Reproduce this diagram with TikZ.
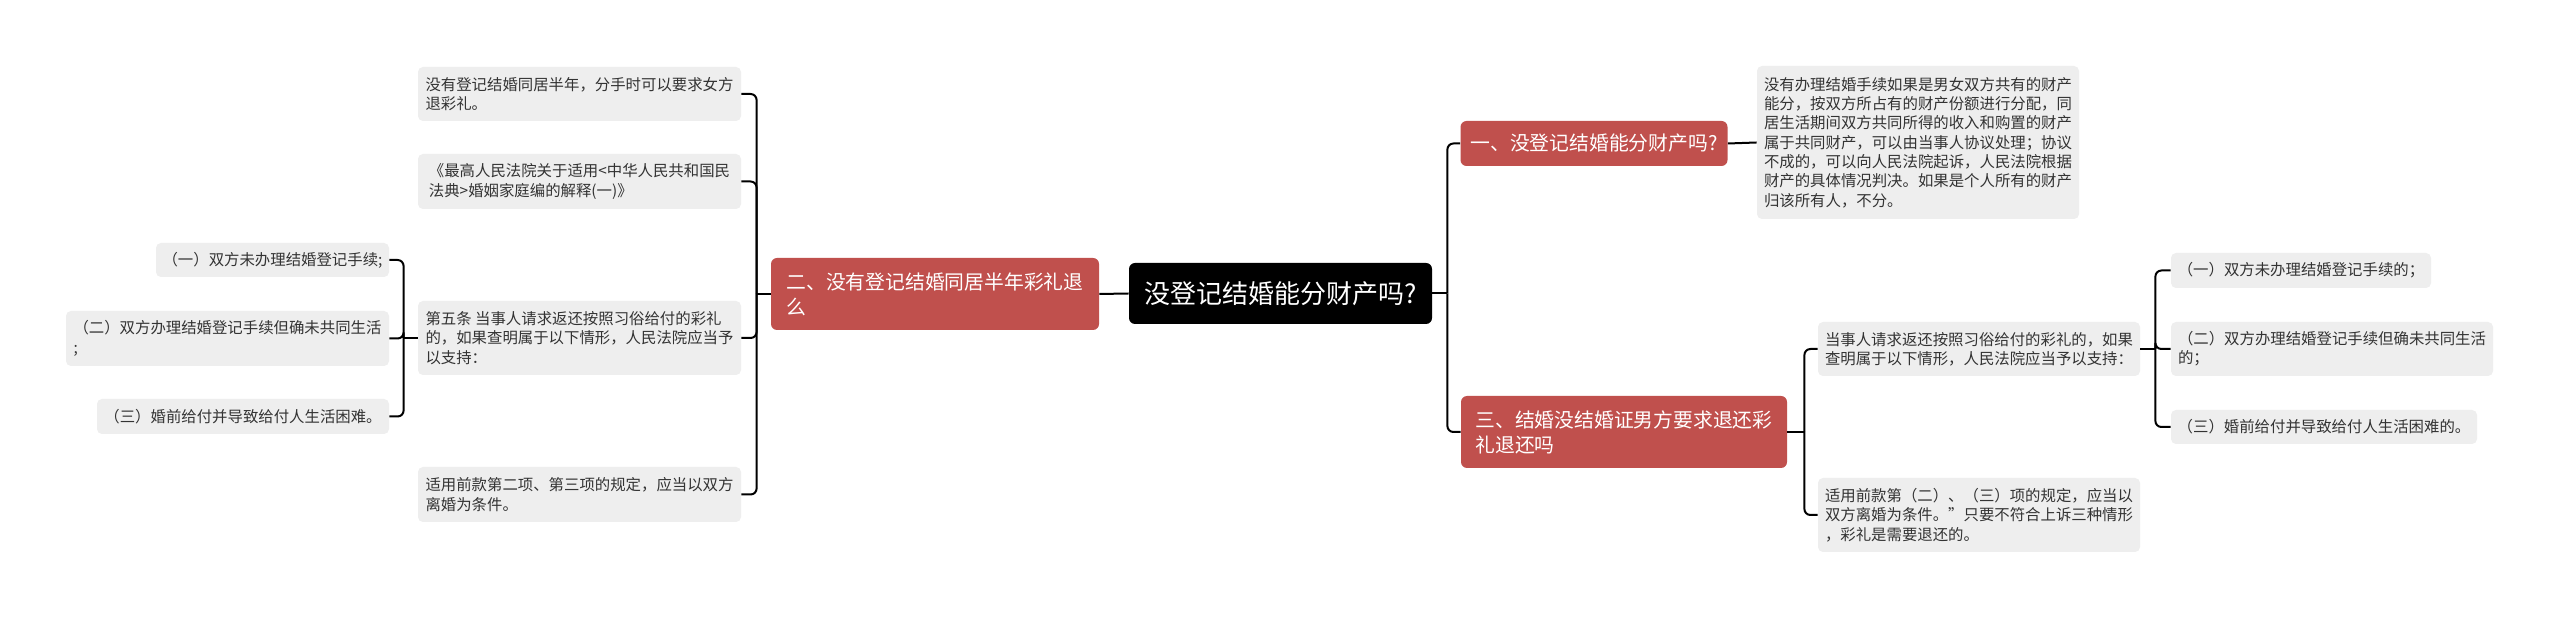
\documentclass[tikz,border=0pt]{standalone}
\usepackage{fontspec}
\setmainfont{Noto Sans CJK SC}
\definecolor{nodered}{HTML}{C0504D}
\definecolor{boxgray}{HTML}{EEEEEE}
\definecolor{txtgray}{HTML}{333333}
\begin{document}
\begin{tikzpicture}[x=0.5pt,y=-0.5pt,
  conn/.style={draw=black,line width=1pt,rounded corners=3pt},
  gbox/.style={fill=boxgray,text=txtgray,rounded corners=2.5pt,font=\fontsize{7.7}{9.65}\selectfont,align=left,inner xsep=3pt,inner ysep=0pt},
  rbox/.style={fill=nodered,text=white,rounded corners=3pt,font=\fontsize{9.9}{12.5}\selectfont,align=left,inner xsep=5pt,inner ysep=0pt},
  cbox/.style={fill=black,text=white,rounded corners=3pt,font=\fontsize{13}{16}\selectfont,inner xsep=6pt,inner ysep=0pt}]
\fill[white] (0,0) rectangle (2560,619);
\useasboundingbox (0,0) rectangle (2560,619);

% central and main branches
\node[cbox,minimum width=151.5pt,minimum height=30.5pt] (c) at (1280.5,293.5) {没登记结婚能分财产吗?};
\node[rbox,minimum width=164pt,minimum height=36pt] (b2) at (935,294) {二、没有登记结婚同居半年彩礼退\\么};
\node[rbox,minimum width=133pt,minimum height=22.5pt] (b1) at (1594,143.5) {一、没登记结婚能分财产吗?};
\node[rbox,minimum width=163pt,minimum height=36pt] (b3) at (1624,432) {三、结婚没结婚证男方要求退还彩\\礼退还吗};

% right side details
\node[gbox,minimum width=161pt,minimum height=76.5pt] (d1) at (1918,142.5) {没有办理结婚手续如果是男女双方共有的财产\\能分，按双方所占有的财产份额进行分配，同\\居生活期间双方共同所得的收入和购置的财产\\属于共同财产，可以由当事人协议处理；协议\\不成的，可以向人民法院起诉，人民法院根据\\财产的具体情况判决。如果是个人所有的财产\\归该所有人，不分。};
\node[gbox,minimum width=161pt,minimum height=27pt] (r1) at (1979,349) {当事人请求返还按照习俗给付的彩礼的，如果\\查明属于以下情形，人民法院应当予以支持：};
\node[gbox,minimum width=161pt,minimum height=37pt] (r2) at (1979,515) {适用前款第（二）、（三）项的规定，应当以\\双方离婚为条件。”只要不符合上诉三种情形\\，彩礼是需要退还的。};
\node[gbox,minimum width=130pt,minimum height=17.5pt] (g1) at (2301,270.5) {（一）双方未办理结婚登记手续的；};
\node[gbox,minimum width=161pt,minimum height=27pt] (g2) at (2332,349) {（二）双方办理结婚登记手续但确未共同生活\\的；};
\node[gbox,minimum width=153pt,minimum height=17pt] (g3) at (2324,427) {（三）婚前给付并导致给付人生活困难的。};

% left side details
\node[gbox,minimum width=161.5pt,minimum height=27pt] (l1) at (579.5,94) {没有登记结婚同居半年，分手时可以要求女方\\退彩礼。};
\node[gbox,minimum width=161.5pt,minimum height=27.5pt] (l2) at (579.5,181.5) {《最高人民法院关于适用<中华人民共和国民\\法典>婚姻家庭编的解释(一)》};
\node[gbox,minimum width=161.5pt,minimum height=37pt] (l3) at (579.5,338) {第五条 当事人请求返还按照习俗给付的彩礼\\的，如果查明属于以下情形，人民法院应当予\\以支持：};
\node[gbox,minimum width=161.5pt,minimum height=27.5pt] (l4) at (579.5,494.5) {适用前款第二项、第三项的规定，应当以双方\\离婚为条件。};
\node[gbox,minimum width=116.5pt,minimum height=17pt] (lg1) at (272.5,260) {（一）双方未办理结婚登记手续;};
\node[gbox,minimum width=161.5pt,minimum height=27.5pt] (lg2) at (227.5,338.5) {（二）双方办理结婚登记手续但确未共同生活\\;};
\node[gbox,minimum width=146pt,minimum height=17.5pt] (lg3) at (243,416.5) {（三）婚前给付并导致给付人生活困难。};

% junction points
\coordinate (tc) at ([xshift=7.5pt]c.east);
\coordinate (tl) at ([xshift=-7pt]b2.west);
\coordinate (tll) at ([xshift=-7pt]l3.west);
\coordinate (tr) at ([xshift=8.5pt]b3.east);
\coordinate (trr) at ([xshift=7.5pt]r1.east);

% connectors
\draw[conn] (c.west) -- (b2.east);
\draw[conn] (c.east) -- (tc);
\draw[conn] (tc) |- (b1.west);
\draw[conn] (tc) |- (b3.west);
\draw[conn] (b1.east) -- (d1.west);
\draw[conn] (b3.east) -- (tr);
\draw[conn] (tr) |- (r1.west);
\draw[conn] (tr) |- (r2.west);
\draw[conn] (r1.east) -- (trr);
\draw[conn] (trr) |- (g1.west);
\draw[conn] (trr) |- (g2.west);
\draw[conn] (trr) |- (g3.west);
\draw[conn] (b2.west) -- (tl);
\draw[conn] (tl) |- (l1.east);
\draw[conn] (tl) |- (l2.east);
\draw[conn] (tl) |- (l3.east);
\draw[conn] (tl) |- (l4.east);
\draw[conn] (l3.west) -- (tll);
\draw[conn] (tll) |- (lg1.east);
\draw[conn] (tll) |- (lg2.east);
\draw[conn] (tll) |- (lg3.east);
\end{tikzpicture}
\end{document}
